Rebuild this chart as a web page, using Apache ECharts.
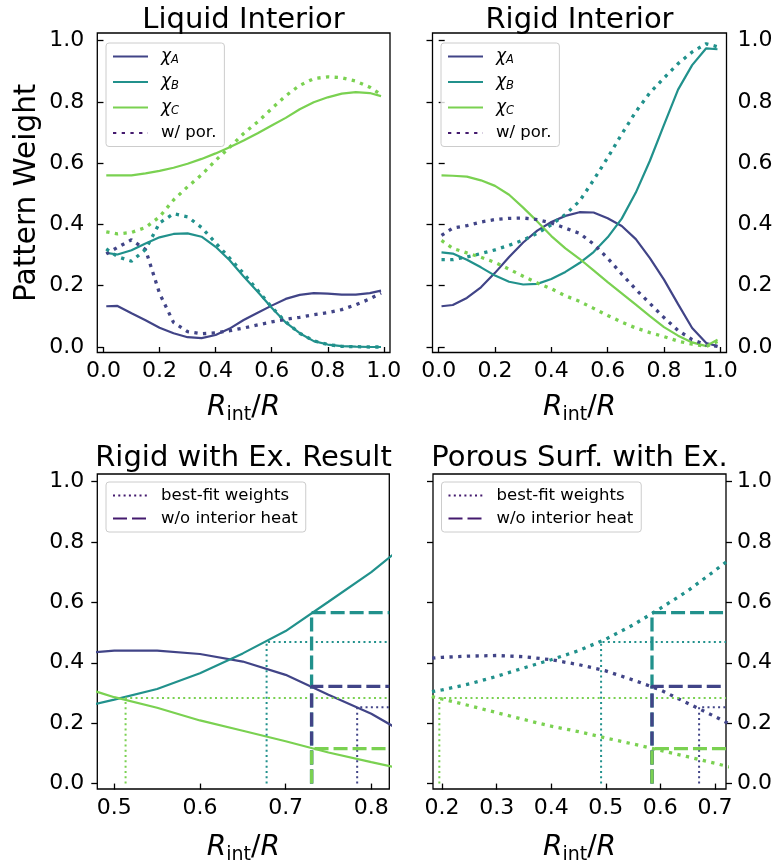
<!DOCTYPE html>
<html>
<head>
<meta charset="utf-8">
<script src="https://cdn.jsdelivr.net/npm/echarts@6/dist/echarts.min.js"></script>
<style>html,body{margin:0;padding:0;background:#fff;}#c{width:779px;height:866px;}</style>
</head>
<body>
<div id="c"></div>
<script>
// ---------- data ----------
const xFull = [0.01,0.05,0.10,0.15,0.20,0.25,0.30,0.35,0.40,0.45,0.50,0.55,0.60,0.65,0.70,0.75,0.80,0.85,0.90,0.95,0.99];

const liquidA    = [0.133,0.134,0.110,0.087,0.063,0.045,0.032,0.029,0.039,0.060,0.088,0.112,0.135,0.157,0.170,0.176,0.174,0.171,0.171,0.176,0.184];
const liquidB    = [0.307,0.302,0.316,0.338,0.358,0.369,0.371,0.360,0.327,0.283,0.230,0.180,0.128,0.080,0.045,0.019,0.008,0.003,0.001,0.000,0.000];
const liquidC    = [0.560,0.560,0.560,0.567,0.575,0.585,0.598,0.614,0.632,0.652,0.674,0.698,0.723,0.748,0.776,0.799,0.815,0.827,0.832,0.829,0.819];
const liquidPorA = [0.304,0.325,0.350,0.318,0.175,0.080,0.050,0.043,0.046,0.053,0.062,0.072,0.082,0.090,0.097,0.105,0.112,0.122,0.138,0.157,0.176];
const liquidPorB = [0.320,0.295,0.280,0.318,0.405,0.435,0.425,0.390,0.340,0.290,0.240,0.185,0.130,0.082,0.045,0.020,0.008,0.002,0.001,0.000,0.000];
const liquidPorC = [0.376,0.369,0.374,0.390,0.425,0.480,0.523,0.562,0.609,0.652,0.697,0.735,0.778,0.820,0.854,0.876,0.882,0.879,0.868,0.848,0.824];

const rigidA    = [0.133,0.137,0.160,0.195,0.242,0.294,0.341,0.380,0.408,0.428,0.440,0.439,0.420,0.395,0.352,0.290,0.220,0.140,0.062,0.013,0.003];
const rigidB    = [0.309,0.305,0.285,0.260,0.233,0.213,0.204,0.206,0.222,0.245,0.274,0.310,0.358,0.419,0.504,0.608,0.725,0.840,0.920,0.975,0.972];
const rigidC    = [0.560,0.559,0.556,0.544,0.526,0.497,0.455,0.410,0.362,0.322,0.288,0.250,0.212,0.175,0.138,0.101,0.065,0.037,0.015,0.003,0.024];
const rigidPorA = [0.364,0.388,0.396,0.408,0.416,0.420,0.421,0.416,0.405,0.388,0.371,0.336,0.290,0.238,0.188,0.142,0.096,0.054,0.024,0.007,0.002];
const rigidPorB = [0.285,0.285,0.294,0.305,0.317,0.332,0.349,0.371,0.399,0.433,0.476,0.545,0.618,0.695,0.768,0.830,0.878,0.925,0.963,0.990,0.980];
const rigidPorC = [0.348,0.322,0.307,0.293,0.276,0.254,0.231,0.209,0.190,0.167,0.149,0.126,0.103,0.081,0.062,0.047,0.034,0.019,0.009,0.002,0.018];

const exRigidX = [0.45,0.50,0.55,0.60,0.65,0.70,0.75,0.80,0.85];
const exRigidA = [0.428,0.440,0.440,0.429,0.404,0.360,0.294,0.231,0.150];
const exRigidB = [0.245,0.278,0.313,0.365,0.431,0.505,0.602,0.700,0.815];
const exRigidC = [0.330,0.286,0.251,0.209,0.175,0.140,0.103,0.071,0.040];

const exPorX = [0.15,0.20,0.25,0.30,0.35,0.40,0.45,0.50,0.55,0.60,0.65,0.70,0.75];
const exPorA = [0.410,0.418,0.422,0.424,0.420,0.410,0.394,0.373,0.343,0.310,0.266,0.222,0.175];
const exPorB = [0.295,0.310,0.330,0.355,0.383,0.410,0.440,0.478,0.525,0.580,0.638,0.705,0.775];
const exPorC = [0.300,0.280,0.258,0.235,0.212,0.190,0.172,0.151,0.131,0.110,0.089,0.067,0.045];

// best-fit weights [A, B, C] and where each is reached
const bestFitW      = [0.253, 0.469, 0.283];
const bestFitRigidX = [0.7835, 0.6778, 0.5132];
const bestFitPorX   = [0.671, 0.4914, 0.195];
// weights without interior heat [A, B, C] and location
const noHeatW      = [0.322, 0.566, 0.116];
const noHeatRigidX = 0.7303;
const noHeatPorX   = 0.5847;

const yTicks   = [0, 0.2, 0.4, 0.6, 0.8, 1.0];
const xTicks1  = [0, 0.2, 0.4, 0.6, 0.8, 1.0];
const xTicks3  = [0.5, 0.6, 0.7, 0.8];
const xTicks4  = [0.2, 0.3, 0.4, 0.5, 0.6, 0.7];
const titles   = ['Liquid Interior', 'Rigid Interior', 'Rigid with Ex. Result', 'Porous Surf. with Ex.'];

// ---------- styling ----------
const FONT = 'DejaVu Sans';
const cA = '#414487', cB = '#21918c', cC = '#7ad151', cD = '#441a6e';
const colorsABC = [cA, cB, cC];
const STY = {
  solid: {width: 2.2, type: 'solid'},
  por:   {width: 3.3, type: [3.3, 5.4]},
  fit:   {width: 2.0, type: [2, 3.3]},
  dash:  {width: 3.3, type: [14, 5]}
};
function pts(xs, ys) { return xs.map((x, i) => [x, ys[i]]); }
function ser(name, idx, data, color, kind, z) {
  return {
    type: 'line', name: name, xAxisIndex: idx, yAxisIndex: idx, data: data,
    symbol: 'none', showSymbol: false, clip: true, animation: false, silent: true,
    color: color, itemStyle: {color: color}, z: z || 2,
    lineStyle: {color: color, width: STY[kind].width, type: STY[kind].type}
  };
}

const grids = [
  {left: 97.3, top: 33, width: 292.7, height: 319.5},
  {left: 432.5, top: 33, width: 294, height: 319.5},
  {left: 97.3, top: 474, width: 292, height: 318.5},
  {left: 433, top: 474, width: 293, height: 318.5}
].map(g => Object.assign(g, {show: true, borderColor: '#000', borderWidth: 1.3, backgroundColor: 'transparent'}));

const xLims = [[-0.022, 1.022], [-0.022, 1.022], [0.4802, 0.821], [0.1834, 0.7203]];
const xTickSets = [xTicks1, xTicks1, xTicks3, xTicks4];
const xNameGaps = [38, 38, 42, 42];
const xNameRich = {
  i: {fontFamily: FONT, fontStyle: 'italic', fontSize: 28, lineHeight: 34, color: '#000'},
  s: {fontFamily: FONT, fontSize: 19, lineHeight: 19, verticalAlign: 'bottom', color: '#000'},
  n: {fontFamily: FONT, fontSize: 28, lineHeight: 34, color: '#000'}
};
const xAxes = xLims.map((lim, k) => ({
  type: 'value', gridIndex: k, min: lim[0], max: lim[1],
  axisLine: {show: false},
  axisTick: {show: true, length: 6, lineStyle: {color: '#000', width: 1.3}, customValues: xTickSets[k]},
  axisLabel: {show: true, customValues: xTickSets[k], fontFamily: FONT, fontSize: 22, color: '#000', margin: 8,
    formatter: v => v.toFixed(1)},
  splitLine: {show: false},
  name: '{i|R}{s|int}{n|/}{i|R}', nameLocation: 'middle', nameGap: xNameGaps[k],
  nameTextStyle: {rich: xNameRich}
}));

function yAx(k, pos, labels, extra) {
  return Object.assign({
    type: 'value', gridIndex: k, min: -0.018, max: 1.025, position: pos,
    axisLine: {show: false},
    axisTick: {show: true, length: 6, lineStyle: {color: '#000', width: 1.3}, customValues: yTicks},
    axisLabel: {show: labels, customValues: yTicks, fontFamily: FONT, fontSize: 22, color: '#000',
      margin: pos === 'left' ? 13 : 11, formatter: v => v.toFixed(1)},
    splitLine: {show: false}
  }, extra || {});
}
const yAxes = [
  yAx(0, 'left', true, {name: 'Pattern Weight', nameLocation: 'middle', nameGap: 55,
    nameTextStyle: {fontFamily: FONT, fontSize: 29.5, color: '#000'}}),
  yAx(1, 'right', true),
  yAx(2, 'left', true),
  yAx(3, 'right', true),
  yAx(1, 'left', false),
  yAx(3, 'left', false)
];

const series = [];
// panel 1
series.push(ser('χA', 0, pts(xFull, liquidA), cA, 'solid'));
series.push(ser('χB', 0, pts(xFull, liquidB), cB, 'solid'));
series.push(ser('χC', 0, pts(xFull, liquidC), cC, 'solid'));
series.push(ser('pA1', 0, pts(xFull, liquidPorA), cA, 'por'));
series.push(ser('pB1', 0, pts(xFull, liquidPorB), cB, 'por'));
series.push(ser('pC1', 0, pts(xFull, liquidPorC), cC, 'por'));
series.push(ser('w/ por.', 0, [], cD, 'por'));
// panel 2
series.push(ser('χA', 1, pts(xFull, rigidA), cA, 'solid'));
series.push(ser('χB', 1, pts(xFull, rigidB), cB, 'solid'));
series.push(ser('χC', 1, pts(xFull, rigidC), cC, 'solid'));
series.push(ser('pA2', 1, pts(xFull, rigidPorA), cA, 'por'));
series.push(ser('pB2', 1, pts(xFull, rigidPorB), cB, 'por'));
series.push(ser('pC2', 1, pts(xFull, rigidPorC), cC, 'por'));
// panel 3
series.push(ser('eA3', 2, pts(exRigidX, exRigidA), cA, 'solid'));
series.push(ser('eB3', 2, pts(exRigidX, exRigidB), cB, 'solid'));
series.push(ser('eC3', 2, pts(exRigidX, exRigidC), cC, 'solid'));
// panel 4
series.push(ser('eA4', 3, pts(exPorX, exPorA), cA, 'por'));
series.push(ser('eB4', 3, pts(exPorX, exPorB), cB, 'por'));
series.push(ser('eC4', 3, pts(exPorX, exPorC), cC, 'por'));
// reference lines panels 3 and 4
[[2, bestFitRigidX, noHeatRigidX], [3, bestFitPorX, noHeatPorX]].forEach(([k, bx, nx]) => {
  const xr = xLims[k][1];
  [0, 1, 2].forEach(j => {
    series.push(ser('bf' + k + j, k, [[bx[j], 0], [bx[j], bestFitW[j]], [xr, bestFitW[j]]], colorsABC[j], 'fit', 3));
  });
  [1, 0, 2].forEach(j => {
    series.push(ser('nh' + k + j, k, [[nx, 0], [nx, noHeatW[j]], [xr, noHeatW[j]]], colorsABC[j], 'dash', 4));
  });
});
series.push(ser('best-fit weights', 2, [], cD, 'fit'));
series.push(ser('w/o interior heat', 2, [], cD, 'dash'));

const legRich = {
  c: {fontFamily: FONT, fontStyle: 'italic', fontSize: 17, lineHeight: 20, color: '#000'},
  s: {fontFamily: FONT, fontStyle: 'italic', fontSize: 11.5, lineHeight: 12, verticalAlign: 'bottom', color: '#000'},
  t: {fontFamily: FONT, fontSize: 16.5, lineHeight: 20, color: '#000'}
};
function legFmt(name) {
  if (name.charAt(0) === 'χ') return '{c|χ}{s|' + name.charAt(1) + '}';
  return '{t|' + name + '}';
}
function legend(left, top, data, gap) {
  return {
    left: left, top: top, orient: 'vertical', data: data, itemWidth: 35, itemHeight: 14, itemGap: gap,
    padding: [5, 8, 5, 6], backgroundColor: 'rgba(255,255,255,0.8)', borderColor: '#cccccc', borderWidth: 1,
    borderRadius: 3, selectedMode: false, formatter: legFmt,
    itemStyle: {color: 'rgba(0,0,0,0)', borderWidth: 0, opacity: 0},
    textStyle: {fontFamily: FONT, fontSize: 16.5, color: '#000', padding: [0, 0, 0, 8], rich: legRich}
  };
}
const legNames1 = ['χA', 'χB', 'χC', 'w/ por.'];
const legNames2 = ['best-fit weights', 'w/o interior heat'];

const titleCenters = [[243.5, 6], [579.5, 6], [243.5, 444], [579.5, 444]];
const option = {
  animation: false,
  backgroundColor: '#fff',
  title: titles.map((t, k) => ({
    text: t, left: titleCenters[k][0], top: titleCenters[k][1], textAlign: 'center', padding: 0,
    textStyle: {fontFamily: FONT, fontSize: 29, fontWeight: 'normal', color: '#000'}
  })),
  grid: grids,
  xAxis: xAxes,
  yAxis: yAxes,
  legend: [legend(106, 43, legNames1, 7), legend(441, 43, legNames1, 7), legend(106, 482, legNames2, 6), legend(441.5, 482, legNames2, 6)],
  series: series
};

const chart = echarts.init(document.getElementById('c'), null, {renderer: 'canvas'});
chart.setOption(option);
</script>
</body>
</html>
